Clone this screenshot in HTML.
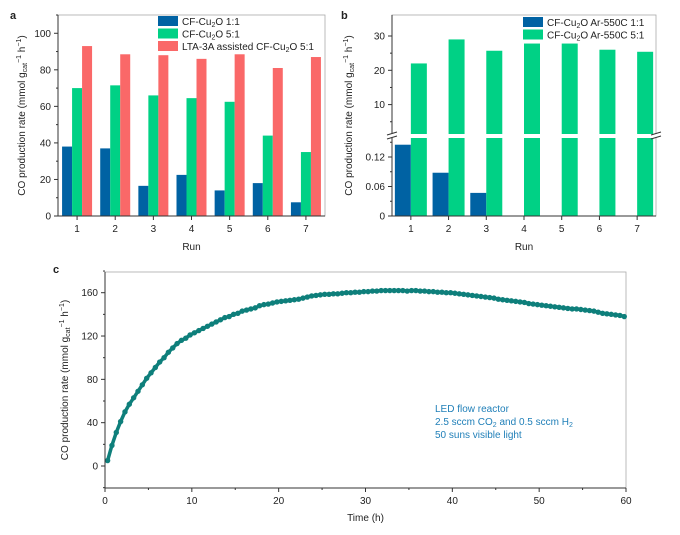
<!DOCTYPE html>
<html><head><meta charset="utf-8"><style>
body{margin:0;background:#fff}
svg{display:block;font-family:"Liberation Sans",sans-serif}
</style></head><body>
<svg id="fig" width="680" height="535" viewBox="0 0 680 535"></svg>
<script>
const runs=[1,2,3,4,5,6,7];
const aBlue=[38,37,16.5,22.5,14,18,7.5];
const aGreen=[70,71.5,66,64.5,62.5,44,35];
const aRed=[93,88.5,88,86,88.5,81,87];
const aTicks=[0,20,40,60,80,100];
const bBlue=[0.145,0.088,0.047,0,0,0,0];
const bGreen=[22,29,25.7,27.8,27.8,26,25.4];
const bLowTicks=[0,0.06,0.12];
const bHighTicks=[10,20,30];
const cStart=0.3, cStep=0.5;
const cValues=[5,19,31,41,50,57,63,69,75,81,86,91,96,100,105,109,113,116,118,121,
123,125,127,129,131,133,135,137,138,140,141,143,144,145,146,148,149,149.5,150.5,151.5,
152,152.5,153,153.5,154,155,156,157,157.5,158,158.5,158.5,159,159,159.5,160,160,160.5,160.5,161,
161,161.5,161.5,162,162,162,162,162,162,161.5,162,162,161.5,161.5,161,161,160.5,160.5,160,160,
159.5,159,158.5,158,157.5,157,156.5,156,155.5,155,154,153.5,153,152.5,152,151.5,151,150,149.5,149,
148.5,148,147.5,147,146.5,146,145.5,145,145,144.5,144,143.5,143,142,141,140.5,140,139.5,139,138];
const cXTicks=[0,10,20,30,40,50,60];
const cYTicks=[0,40,80,120,160];

const NS="http://www.w3.org/2000/svg";
const svg=document.getElementById('fig');
function el(tag,attrs,parent,txt){const e=document.createElementNS(NS,tag);for(const k in attrs)e.setAttribute(k,attrs[k]);if(txt!==undefined)e.textContent=txt;(parent||svg).appendChild(e);return e;}
function text(x,y,s,opts,parent){const t=el('text',Object.assign({x:x,y:y,'font-size':10,fill:'#222'},opts||{}),parent);t.innerHTML=s;return t;}
const BLUE='#0062a3',GREEN='#00d185',RED='#fa6868',TEAL='#0e7f7b';
const YT='CO production rate (mmol g<tspan font-size="7" dy="2">cat</tspan><tspan font-size="7" dy="-6">−1</tspan><tspan dy="4"> h</tspan><tspan font-size="7" dy="-4">−1</tspan><tspan dy="4">)</tspan>';

// ---------- panel a ----------
const ga=el('g',{});

const aL=58,aR=325,aT=15,aB=216,aMax=110;
const ax=r=>aL+(r-0.5)*(aR-aL)/7;
const ay=v=>aB-v*(aB-aT)/aMax;
el('rect',{x:aL,y:aT,width:aR-aL,height:aB-aT,fill:'none',stroke:'#aaa','stroke-width':0.8},ga);
runs.forEach((r,i)=>{
  const c=ax(r);
  [[aBlue,BLUE,-15,'bar-a-blue'],[aGreen,GREEN,-5,'bar-a-green'],[aRed,RED,5,'bar-a-red']].forEach(([arr,col,off,nm])=>{
    const b=el('rect',{x:c+off,y:ay(arr[i]),width:10,height:aB-ay(arr[i]),fill:col},ga);
    
    
  });
  el('line',{x1:c,x2:c,y1:aB,y2:aB+4,stroke:'#333'},ga);
  text(c,232,String(r),{'text-anchor':'middle'},ga);
});
el('line',{x1:aL,x2:aL,y1:aT,y2:aB,stroke:'#333'},ga);
el('line',{x1:aL,x2:aR,y1:aB,y2:aB,stroke:'#333'},ga);
aTicks.forEach(v=>{el('line',{x1:aL-4,x2:aL,y1:ay(v),y2:ay(v),stroke:'#333'},ga);
  el('line',{x1:aL-2,x2:aL,y1:ay(v+10),y2:ay(v+10),stroke:'#333'},ga);
  text(aL-7,ay(v)+3.5,String(v),{'text-anchor':'end'},ga);});
text((aL+aR)/2,250,'Run',{'text-anchor':'middle'},ga);
text(0,0,YT,{'text-anchor':'middle',transform:'translate(25,'+((aT+aB)/2)+') rotate(-90)'},ga);
text(10,19,'a',{'font-weight':'bold','font-size':11},ga);
const legA=el('g',{},ga);
[[BLUE,'CF-Cu<tspan font-size="7" dy="2">2</tspan><tspan dy="-2">O 1:1</tspan>'],[GREEN,'CF-Cu<tspan font-size="7" dy="2">2</tspan><tspan dy="-2">O 5:1</tspan>'],[RED,'LTA-3A assisted CF-Cu<tspan font-size="7" dy="2">2</tspan><tspan dy="-2">O 5:1</tspan>']].forEach(([c,s],i)=>{
  el('rect',{x:158,y:16+i*12.5,width:20,height:10,fill:c},legA);
  text(182,25+i*12.5,s,{},legA);
});

// ---------- panel b ----------
const gb=el('g',{});

const bL=392,bR=656,bT=15,bB=216,brk=136;
const bx=r=>bL+(r-0.5)*(bR-bL)/7;
const byLow=v=>bB-v*(29.5/0.06);
const byHigh=v=>36-(v-30)*3.43;
el('rect',{x:bL,y:bT,width:bR-bL,height:bB-bT,fill:'none',stroke:'#aaa','stroke-width':0.8},gb);
runs.forEach((r,i)=>{
  const c=bx(r);
  if(bBlue[i]>0){const b=el('rect',{x:c-16,y:byLow(bBlue[i]),width:16,height:bB-byLow(bBlue[i]),fill:BLUE},gb);
    
    }
  const g=el('rect',{x:c,y:byHigh(bGreen[i]),width:16,height:bB-byHigh(bGreen[i]),fill:GREEN},gb);
  
  
  el('line',{x1:c,x2:c,y1:bB,y2:bB+4,stroke:'#333'},gb);
  text(c,232,String(r),{'text-anchor':'middle'},gb);
});
el('rect',{x:bL-6,y:brk-2,width:bR-bL+12,height:4,fill:'#fff'},gb);
el('line',{x1:bL,x2:bL,y1:bT,y2:brk-2,stroke:'#333'},gb);
el('line',{x1:bL,x2:bL,y1:brk+2,y2:bB,stroke:'#333'},gb);
[bL,bR].forEach(xx=>{el('line',{x1:xx-5,x2:xx+5,y1:brk-1,y2:brk-4,stroke:'#333'},gb);el('line',{x1:xx-5,x2:xx+5,y1:brk+3,y2:brk,stroke:'#333'},gb);});
el('line',{x1:bL,x2:bR,y1:bB,y2:bB,stroke:'#333'},gb);
bLowTicks.forEach(v=>{el('line',{x1:bL-4,x2:bL,y1:byLow(v),y2:byLow(v),stroke:'#333'},gb);
  el('line',{x1:bL-2,x2:bL,y1:byLow(v+0.03),y2:byLow(v+0.03),stroke:'#333'},gb);
  text(bL-7,byLow(v)+3.5,String(v),{'text-anchor':'end'},gb);});
bHighTicks.forEach(v=>{el('line',{x1:bL-4,x2:bL,y1:byHigh(v),y2:byHigh(v),stroke:'#333'},gb);
  el('line',{x1:bL-2,x2:bL,y1:byHigh(v-5),y2:byHigh(v-5),stroke:'#333'},gb);
  text(bL-7,byHigh(v)+3.5,String(v),{'text-anchor':'end'},gb);});
text((bL+bR)/2,250,'Run',{'text-anchor':'middle'},gb);
text(0,0,YT,{'text-anchor':'middle',transform:'translate(352,'+((bT+bB)/2)+') rotate(-90)'},gb);
text(341,19,'b',{'font-weight':'bold','font-size':11},gb);
const legB=el('g',{},gb);
[[BLUE,'CF-Cu<tspan font-size="7" dy="2">2</tspan><tspan dy="-2">O Ar-550C 1:1</tspan>'],[GREEN,'CF-Cu<tspan font-size="7" dy="2">2</tspan><tspan dy="-2">O Ar-550C 5:1</tspan>']].forEach(([c,s],i)=>{
  el('rect',{x:523,y:17+i*12.5,width:20,height:10,fill:c},legB);
  text(547,26+i*12.5,s,{},legB);
});

// ---------- panel c ----------
const gc=el('g',{});

const cL=105,cR=626,cT=272,cB=488;
const cx=t=>cL+t*(cR-cL)/60;
const cy=v=>466-v*(466-292.7)/160;
el('rect',{x:cL,y:cT,width:cR-cL,height:cB-cT,fill:'none',stroke:'#aaa','stroke-width':0.8},gc);
let pts=cValues.map((v,i)=>cx(cStart+i*cStep).toFixed(1)+','+cy(v).toFixed(1)).join(' ');
el('polyline',{points:pts,fill:'none',stroke:TEAL,'stroke-width':3.5},gc);
cValues.forEach((v,i)=>{const d=el('circle',{cx:cx(cStart+i*cStep),cy:cy(v),r:2.7,fill:TEAL},gc);
  
  });
el('line',{x1:cL,x2:cL,y1:cT,y2:cB,stroke:'#333'},gc);
el('line',{x1:cL,x2:cR,y1:cB,y2:cB,stroke:'#333'},gc);
cXTicks.forEach(t=>{el('line',{x1:cx(t),x2:cx(t),y1:cB,y2:cB+4,stroke:'#333'},gc);
  if(t<60)el('line',{x1:cx(t+5),x2:cx(t+5),y1:cB,y2:cB+2,stroke:'#333'},gc);
  text(cx(t),504,String(t),{'text-anchor':'middle'},gc);});
cYTicks.forEach(v=>{el('line',{x1:cL-4,x2:cL,y1:cy(v),y2:cy(v),stroke:'#333'},gc);
  el('line',{x1:cL-2,x2:cL,y1:cy(v+20),y2:cy(v+20),stroke:'#333'},gc);
  text(cL-7,cy(v)+3.5,String(v),{'text-anchor':'end'},gc);});
el('line',{x1:cL-2,x2:cL,y1:cy(-20),y2:cy(-20),stroke:'#333'},gc);
text((cL+cR)/2,521,'Time (h)',{'text-anchor':'middle'},gc);
text(0,0,YT,{'text-anchor':'middle',transform:'translate(68,'+((cT+cB)/2)+') rotate(-90)'},gc);
text(53,273,'c',{'font-weight':'bold','font-size':11},gc);
const ann=el('g',{},gc);
text(435,412,'LED flow reactor',{fill:'#1f7fb8'},ann);
text(435,425,'2.5 sccm CO<tspan font-size="7" dy="2">2</tspan><tspan dy="-2"> and 0.5 sccm H</tspan><tspan font-size="7" dy="2">2</tspan>',{fill:'#1f7fb8'},ann);
text(435,438,'50 suns visible light',{fill:'#1f7fb8'},ann);
</script>
</body></html>
